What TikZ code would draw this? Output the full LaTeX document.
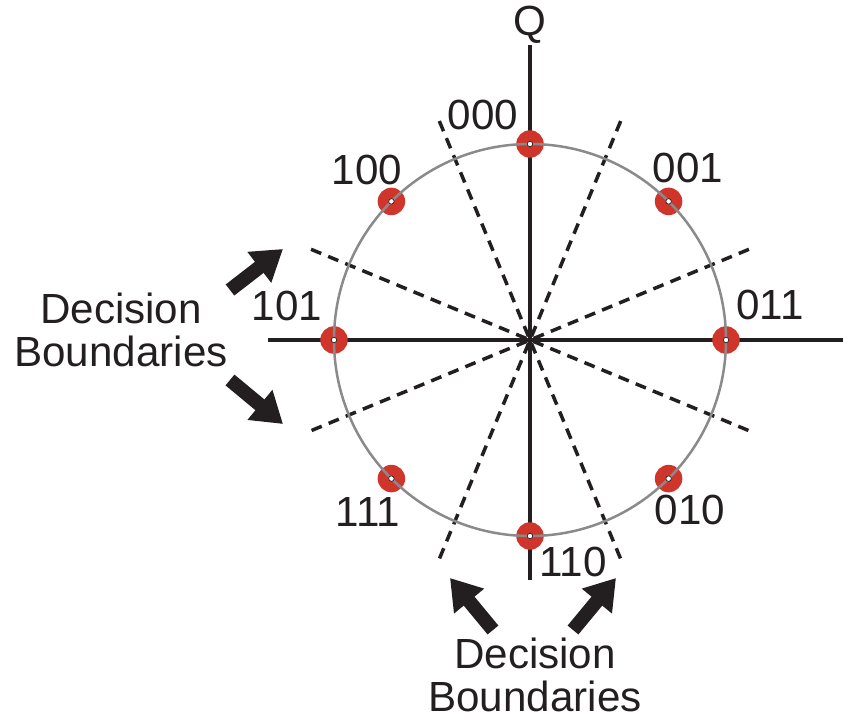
\documentclass[tikz,border=0pt]{standalone}
\usepackage{fontspec}
\setmainfont{Liberation Sans}
\usetikzlibrary{arrows.meta}

\definecolor{ink}{HTML}{231F20}
\definecolor{dotred}{HTML}{D0352B}
\definecolor{ringgray}{HTML}{8A8A8A}

\begin{document}
\begin{tikzpicture}[
    x=0.02cm, y=0.02cm,
    % Style definitions
    axis/.style={line width=0.08cm, draw=ink},
    boundary/.style={line width=0.07cm, draw=ink, dash pattern=on 0.22cm off 0.15cm},
    ring/.style={line width=0.05cm, draw=ringgray},
    symbol/.style={circle, fill=dotred, inner sep=0pt, minimum size=0.55cm},
    center/.style={circle, fill=white, draw=ink, line width=0.4pt, inner sep=0pt, minimum size=0.11cm},
    bits/.style={font=\fontsize{24}{25}\selectfont, text=ink, inner sep=0pt},
    caption/.style={font=\fontsize{24}{24.5}\selectfont, text=ink, align=center, inner sep=0pt},
    pointer/.style={-{Triangle[length=0.6cm, width=0.74cm]}, line width=0.28cm, draw=ink},
]
\useasboundingbox (-530,-380) rectangle (325,340);

% Axes
\coordinate (origin) at (0,0);
\coordinate (ibeg) at (-262,0);
\coordinate (iend) at (313,0);
\coordinate (qbeg) at (0,-240);
\coordinate (qend) at (0,295);
\draw[axis] (ibeg) -- (iend);
\draw[axis] (qbeg) -- (qend);
\node[bits] (q) at (0,315) {Q};

% Decision boundaries half way between the symbols
\foreach \a in {22.5, 67.5, 112.5, 157.5}
  \draw[boundary] (\a:237) -- (\a+180:237);

% 8-PSK constellation
\foreach \a/\b in {90/000, 45/001, 0/011, -45/010, -90/110, -135/111, 180/101, 135/100}
  \node[symbol] (s\b) at (\a:196) {};
\draw[ring] (origin) circle (196);
\foreach \b in {000, 001, 011, 010, 110, 111, 101, 100}
  \node[center] at (s\b) {};

% Bit labels
\node[bits] (l000) at (-47,225) {000};
\node[bits] (l001) at (158,172) {001};
\node[bits] (l100) at (-163,170) {100};
\node[bits] (l011) at (240,35) {011};
\node[bits] (l101) at (-243,34) {101};
\node[bits] (l010) at (160,-170) {010};
\node[bits] (l111) at (-162,-172) {111};
\node[bits] (l110) at (43,-222) {110};

% Captions and pointers
\node[caption] (capleft) at (-409,10) {Decision\\Boundaries};
\node[caption] (capbottom) at (5,-335) {Decision\\Boundaries};

\coordinate (ultail) at (-300,50);  \coordinate (ulhead) at (-247,91);
\coordinate (lltail) at (-300,-40); \coordinate (llhead) at (-247,-84);
\coordinate (bltail) at (-37,-290); \coordinate (blhead) at (-80,-238);
\coordinate (brtail) at (43,-290);  \coordinate (brhead) at (86,-238);
\draw[pointer] (ultail) -- (ulhead);
\draw[pointer] (lltail) -- (llhead);
\draw[pointer] (bltail) -- (blhead);
\draw[pointer] (brtail) -- (brhead);

\end{tikzpicture}
\end{document}
